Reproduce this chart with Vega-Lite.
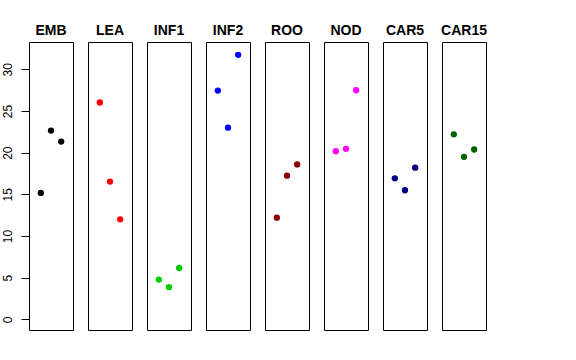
{
  "$schema": "https://vega.github.io/schema/vega-lite/v6.json",
  "padding": {"left": 1, "top": 24, "right": 5, "bottom": 5},
  "background": "white",
  "bounds": "flush",
  "data": {"values": [
    {"tissue": "EMB", "pos": 1, "value": 15.17},
    {"tissue": "EMB", "pos": 2, "value": 22.65},
    {"tissue": "EMB", "pos": 3, "value": 21.33},
    {"tissue": "LEA", "pos": 1, "value": 26.02},
    {"tissue": "LEA", "pos": 2, "value": 16.53},
    {"tissue": "LEA", "pos": 3, "value": 12.0},
    {"tissue": "INF1", "pos": 1, "value": 4.77},
    {"tissue": "INF1", "pos": 2, "value": 3.86},
    {"tissue": "INF1", "pos": 3, "value": 6.16},
    {"tissue": "INF2", "pos": 1, "value": 27.45},
    {"tissue": "INF2", "pos": 2, "value": 23.0},
    {"tissue": "INF2", "pos": 3, "value": 31.74},
    {"tissue": "ROO", "pos": 1, "value": 12.2},
    {"tissue": "ROO", "pos": 2, "value": 17.24},
    {"tissue": "ROO", "pos": 3, "value": 18.59},
    {"tissue": "NOD", "pos": 1, "value": 20.18},
    {"tissue": "NOD", "pos": 2, "value": 20.46},
    {"tissue": "NOD", "pos": 3, "value": 27.49},
    {"tissue": "CAR5", "pos": 1, "value": 16.92},
    {"tissue": "CAR5", "pos": 2, "value": 15.49},
    {"tissue": "CAR5", "pos": 3, "value": 18.2},
    {"tissue": "CAR15", "pos": 1, "value": 22.2},
    {"tissue": "CAR15", "pos": 2, "value": 19.5},
    {"tissue": "CAR15", "pos": 3, "value": 20.38}
  ]},
  "facet": {
    "column": {
      "field": "tissue",
      "type": "nominal",
      "sort": ["EMB", "LEA", "INF1", "INF2", "ROO", "NOD", "CAR5", "CAR15"],
      "header": {
        "title": null,
        "labelFont": "Liberation Sans",
        "labelFontSize": 14,
        "labelFontWeight": "bold",
        "labelColor": "black",
        "labelBaseline": "alphabetic",
        "labelPadding": -7
      }
    }
  },
  "spacing": 15,
  "spec": {
    "width": 44,
    "height": 288,
    "mark": {"type": "point", "filled": true, "opacity": 1, "size": 40},
    "encoding": {
      "x": {"field": "pos", "type": "quantitative", "scale": {"domain": [-0.16, 4.16], "nice": false, "zero": false}, "axis": null},
      "y": {
        "field": "value", "type": "quantitative",
        "scale": {"domain": [-1.28, 33.28], "nice": false, "zero": false},
        "axis": {
          "title": null,
          "values": [0, 5, 10, 15, 20, 25, 30],
          "grid": false,
          "domain": false,
          "tickSize": 8,
          "tickColor": "black",
          "labelAngle": -90,
          "labelAlign": "center",
          "labelBaseline": "alphabetic",
          "labelPadding": 10,
          "labelFont": "Liberation Sans",
          "labelFontSize": 12,
          "labelColor": "black"
        }
      },
      "color": {
        "field": "tissue", "type": "nominal", "legend": null,
        "scale": {
          "domain": ["EMB", "LEA", "INF1", "INF2", "ROO", "NOD", "CAR5", "CAR15"],
          "range": ["#000000", "#FF0000", "#00CD00", "#0000FF", "#8B0000", "#FF00FF", "#000080", "#006400"]
        }
      }
    }
  },
  "config": {
    "view": {"stroke": "black", "strokeWidth": 1, "fill": "white"}
  }
}
